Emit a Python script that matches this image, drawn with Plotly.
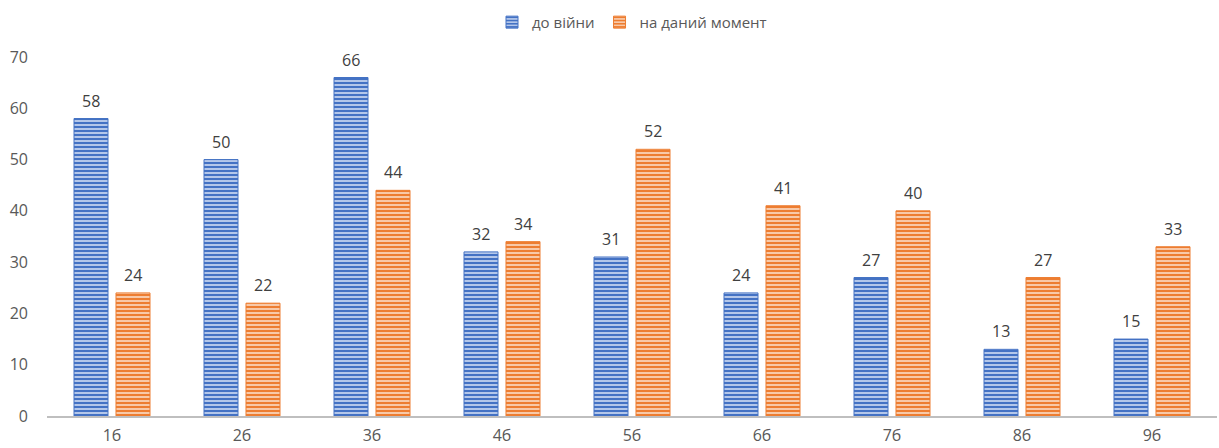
import plotly.graph_objects as go

categories = ["1б", "2б", "3б", "4б", "5б", "6б", "7б", "8б", "9б"]
before_war = [58, 50, 66, 32, 31, 24, 27, 13, 15]
now = [24, 22, 44, 34, 52, 41, 40, 27, 33]

BLUE = "#4472C4"
BLUE_BG = "#B4C7EA"
ORANGE = "#ED7D31"
ORANGE_BG = "#F8C9A8"

fig = go.Figure()
fig.add_trace(go.Bar(
    name="до війни", x=categories, y=before_war,
    marker=dict(color=BLUE_BG, line=dict(color=BLUE, width=1),
                pattern=dict(shape="-", size=4, solidity=0.5, fgcolor=BLUE, bgcolor=BLUE_BG, fillmode="replace")),
))
fig.add_trace(go.Bar(
    name="на даний момент", x=categories, y=now,
    marker=dict(color=ORANGE_BG, line=dict(color=ORANGE, width=1),
                pattern=dict(shape="-", size=4, solidity=0.5, fgcolor=ORANGE, bgcolor=ORANGE_BG, fillmode="replace")),
))

annotations = []
for vals, shift in ((before_war, -21), (now, 21)):
    for c, v in zip(categories, vals):
        annotations.append(dict(x=c, y=v, xref="x", yref="y", text=str(v), showarrow=False,
                                xshift=shift, yshift=5, yanchor="bottom",
                                font=dict(size=16, color="#404040")))

fig.update_layout(
    width=1219, height=448,
    margin=dict(l=47, r=2, t=57, b=29),
    paper_bgcolor="white", plot_bgcolor="white",
    font=dict(family="Open Sans, Noto Sans, sans-serif", color="#595959", size=14),
    barmode="group", bargap=0.354, bargroupgap=0.19,
    showlegend=True,
    legend=dict(orientation="h", x=0.5, xanchor="center", yref="container", y=0.95, yanchor="middle",
                font=dict(size=15, color="#595959"), itemwidth=30, traceorder="normal"),
    annotations=annotations,
)
fig.update_yaxes(range=[0, 70], dtick=10, showgrid=False, zeroline=False, showline=False,
                 tickfont=dict(size=16, color="#595959"), ticks="", ticklabelstandoff=18)
fig.update_xaxes(showline=True, linecolor="#BFBFBF", linewidth=2, ticks="",
                 tickfont=dict(size=16, color="#595959"), ticklabelstandoff=4)

fig.write_html("out.html")
